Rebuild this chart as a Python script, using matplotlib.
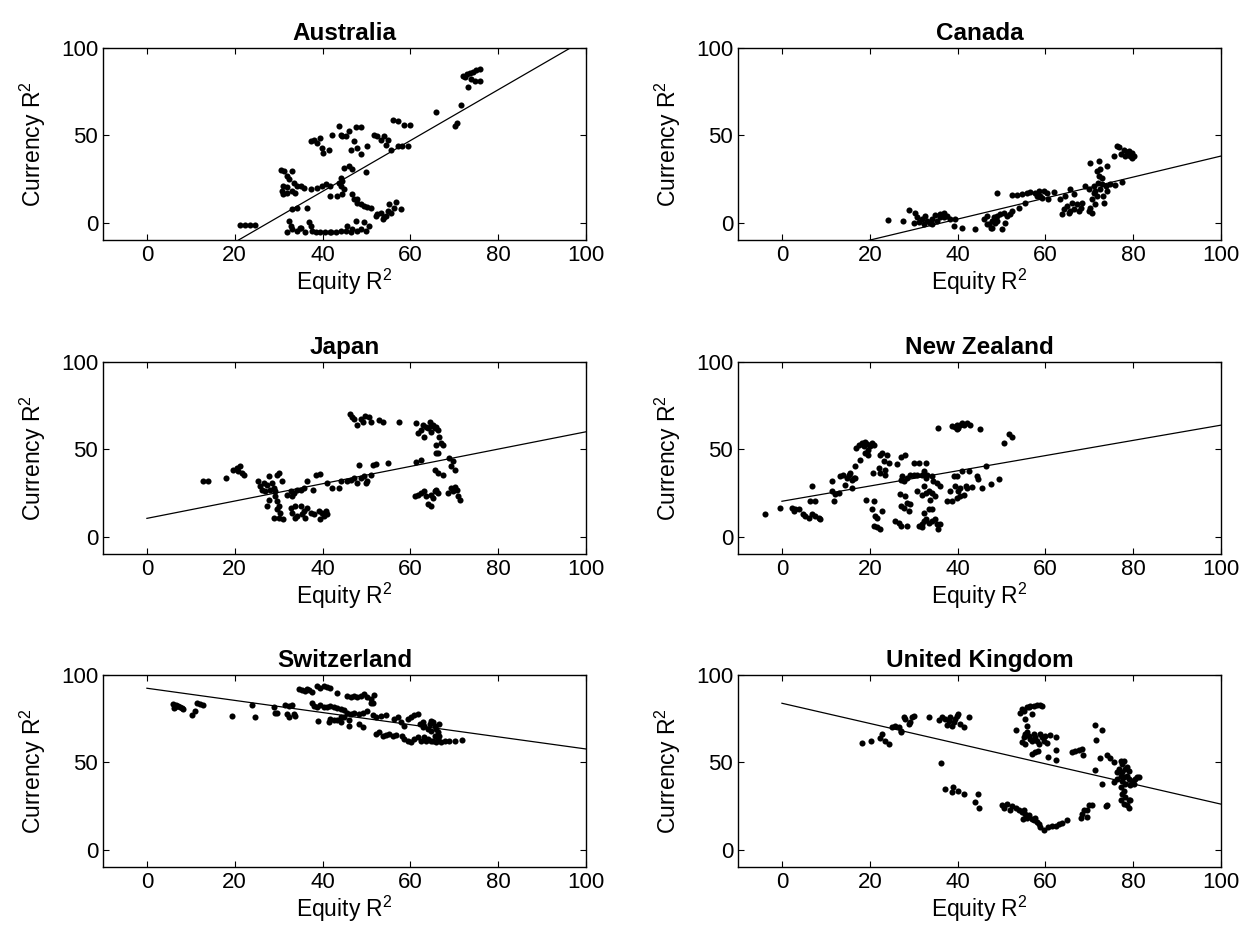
import numpy as np
import matplotlib
matplotlib.use("Agg")
import matplotlib.pyplot as plt

plt.rcParams['font.family'] = ['Liberation Sans', 'DejaVu Sans']
plt.rcParams['mathtext.fontset'] = 'custom'
plt.rcParams['mathtext.rm'] = 'Liberation Sans'
plt.rcParams['mathtext.it'] = 'Liberation Sans'

# --- data (Equity R^2, Currency R^2) ---
countries = ["Australia", "Canada", "Japan", "New Zealand", "Switzerland", "United Kingdom"]

# regression line: currency = intercept + slope * equity
fit_intercept = [-40.4, -22.1, 10.4, 20.2, 92.4, 83.8]
fit_slope = [1.456, 0.602, 0.496, 0.436, -0.348, -0.578]

aus_x = [21.2, 22.4, 23.5, 24.7, 33.1, 34.2, 36.5,
         32.3, 32.7, 31.9, 33.1, 34.2, 35.0, 36.1, 36.9, 37.3, 37.6, 38.4, 39.5, 41.8, 43.0, 44.1, 45.3,
         45.6, 46.4, 47.6, 47.9, 48.7, 49.5, 49.8, 50.6, 34.8, 40.5, 42.0, 46.8,
         52.1, 52.5, 53.3, 53.7, 54.4, 54.8, 55.2, 55.6, 56.3, 56.7, 57.9, 53.9,
         46.8, 47.2, 47.9, 48.7, 49.5, 50.2, 51.0, 47.8,
         44.9, 46.0, 46.8, 44.1, 44.5, 43.7, 44.1, 44.9, 43.4, 44.5, 49.8, 41.8,
         30.5, 31.3, 33.1, 31.9, 32.3, 31.1, 31.9, 30.8, 31.1, 31.9, 33.1, 33.4, 34.2, 35.0, 35.8, 37.3, 33.8,
         38.8, 39.9, 40.7, 41.8,
         37.3, 38.0, 38.8, 39.5, 39.9, 40.2, 41.5, 42.2, 44.1, 44.5, 45.3, 43.7, 46.0, 47.6, 48.7, 47.2, 47.9,
         46.4, 48.7, 50.2, 51.8, 52.5, 53.3, 54.0, 54.8, 54.4, 55.6, 57.1, 58.2, 59.4, 56.0, 57.1, 58.6, 59.8,
         65.9, 70.1, 70.5, 71.5,
         72.0, 72.8, 73.5, 74.3, 75.0, 75.8, 74.7, 75.8, 73.1, 73.9, 72.4]
aus_y = [-1.3, -1.3, -1.3, -1.3, 7.6, 8.2, 8.6,
         1.0, -1.9, -5.3, -3.8, -4.8, -2.9, -5.7, 0.4, -1.9, -4.8, -5.7, -5.3, -5.3, -5.3, -4.8, -4.8,
         -1.9, -5.3, 0.9, -4.8, -3.8, 0.4, -4.8, -1.9, -3.0, -5.5, -5.6, -3.5,
         3.8, 4.8, 5.7, 1.9, 3.8, 6.7, 10.5, 5.7, 8.6, 11.8, 7.6, 2.9,
         16.2, 13.7, 11.4, 10.5, 9.5, 8.9, 8.6, 13.3,
         31.4, 32.3, 30.4, 25.7, 23.8, 22.8, 20.9, 19.0, 15.2, 16.2, 28.9, 15.2,
         30.0, 29.8, 29.5, 26.8, 24.7, 20.9, 20.5, 18.1, 16.2, 17.1, 18.1, 22.8, 20.9, 20.9, 20.0, 19.0, 17.1,
         20.0, 20.9, 21.9, 20.9,
         46.6, 47.5, 45.6, 48.5, 42.8, 39.9, 41.8, 50.4, 50.4, 49.4, 49.8, 55.5, 52.3, 54.8, 54.8, 46.6, 42.8,
         41.8, 39.0, 43.7, 50.4, 49.4, 47.5, 49.4, 47.5, 44.7, 41.8, 43.7, 43.7, 44.1, 58.9, 58.0, 56.1, 56.1,
         63.1, 55.5, 57.0, 67.5,
         83.7, 85.2, 85.6, 86.5, 87.5, 87.8, 80.8, 80.8, 77.9, 82.1, 83.3]

can_x = [24.1, 27.6, 28.9, 30.4,
         30.8, 31.1, 31.9, 32.6, 33.0, 33.8, 34.2, 34.9, 35.3, 36.1, 36.8, 37.6, 38.3, 39.5, 39.1, 41.0,
         34.2, 30.0, 32.3, 35.9, 37.0,
         44.0, 45.9, 46.7, 47.1, 47.5, 47.8, 48.2, 48.6, 49.0, 49.7, 50.1, 50.5, 50.9, 51.3, 52.0, 52.4,
         46.7, 47.8, 49.0, 53.9, 55.4, 49.0,
         52.4, 53.5, 54.7, 55.8, 56.4, 57.7, 58.5, 58.8, 59.6, 60.4, 60.7, 61.9, 58.1, 59.2,
         63.8, 64.2, 64.9, 65.7, 66.1, 66.4, 67.2, 67.6, 68.0, 63.4, 64.5, 65.7, 66.4, 68.3, 65.3,
         69.1, 69.9, 70.2, 70.2, 70.6, 71.0, 71.1, 71.4, 71.8, 71.9, 72.1, 72.5, 72.5, 72.9, 73.1, 73.3,
         73.7, 74.0, 74.0, 72.1, 70.6, 71.4, 72.9, 69.9, 74.8, 75.9, 77.4, 71.8,
         75.6, 76.3, 76.7, 77.1, 77.8, 78.6, 79.0, 79.3, 79.7, 79.0, 79.7, 80.1, 78.2]
can_y = [1.3, 0.6, 7.0, 5.3,
         2.9, 0.4, 1.9, 3.8, 1.0, 0.0, 2.3, 4.2, 1.0, 4.8, 5.7, 3.8, 1.9, 1.9, -1.9, -2.9,
         -1.0, 0.0, -1.0, 2.9, 2.9,
         -3.8, 1.9, 3.8, -1.0, -2.9, 1.0, 2.9, 0.0, 3.8, 4.8, -3.8, 5.7, 0.0, 3.8, 4.8, 6.7,
         -1.0, -2.9, 1.0, 8.6, 11.4, 16.7,
         15.6, 15.8, 16.2, 16.7, 17.5, 17.1, 18.1, 15.2, 18.1, 16.7, 13.7, 17.5, 15.2, 14.3,
         4.8, 7.6, 9.5, 6.7, 11.4, 7.6, 10.5, 6.7, 8.6, 13.3, 15.2, 19.4, 16.2, 11.4, 5.7,
         20.9, 6.7, 8.6, 34.2, 13.3, 17.1, 20.9, 10.5, 15.2, 22.8, 26.6, 19.0, 30.4, 25.7, 15.2, 11.4,
         20.9, 32.3, 18.1, 35.2, 5.7, 18.1, 21.9, 19.0, 21.9, 21.3, 23.2, 29.5,
         38.0, 44.1, 43.3, 39.0, 41.8, 40.3, 39.0, 38.0, 37.1, 40.9, 39.9, 38.4, 38.0]

jap_x = [12.8, 14.0, 18.0, 19.7, 20.5, 21.2, 21.6, 22.1, 20.8,
         25.4, 25.8, 26.2, 26.6, 27.3, 27.7, 28.1, 28.5, 28.9, 29.2, 29.6, 30.0, 29.2, 29.6, 30.0, 30.8,
         27.7, 27.3, 29.6, 28.9, 30.0, 31.1, 30.4, 26.9,
         31.9, 32.7, 33.4, 34.2, 35.0, 35.7, 36.5, 37.9, 33.1,
         32.7, 33.1, 33.8, 34.2, 35.0, 35.7, 36.1, 36.5, 37.3, 38.0, 39.2, 39.9, 40.7, 39.5, 40.3, 41.1,
         33.8, 35.3,
         38.4, 39.5, 41.1, 42.2, 43.7, 44.1, 45.6, 46.4, 47.2, 47.9, 48.7, 49.5, 50.2, 51.0, 49.8, 48.3,
         51.4, 52.1, 54.8,
         46.3, 46.8, 47.8, 48.7, 49.6, 50.6, 51.0, 52.9, 53.7, 57.5, 47.2, 49.1,
         61.3, 61.7, 62.4, 62.8, 63.2, 63.6, 64.0, 64.4, 64.7, 65.1, 65.5, 65.9, 66.3, 66.6, 65.9, 67.0,
         66.3, 67.4, 64.7,
         61.3, 62.4, 65.5, 66.3, 67.4, 68.9, 69.7, 70.1, 69.3, 65.9,
         61.1, 61.7, 62.4, 63.2, 63.6, 64.0, 64.6, 65.1, 65.5, 65.9, 66.3, 64.7, 68.5, 69.3, 70.1, 70.5,
         70.8, 71.2, 69.7]
jap_y = [31.6, 31.6, 33.5, 38.3, 39.2, 40.2, 36.4, 35.4, 37.3,
         31.6, 28.8, 26.9, 30.7, 29.7, 34.5, 26.9, 30.7, 27.8, 26.0, 35.4, 36.4, 23.1, 20.3, 17.4, 31.6,
         21.2, 17.4, 15.5, 10.8, 10.8, 9.8, 13.6, 26.0,
         24.0, 25.9, 25.0, 26.9, 26.9, 27.8, 31.6, 26.9, 23.1,
         16.5, 13.6, 17.4, 11.7, 17.4, 14.6, 10.8, 16.5, 13.6, 12.7, 14.6, 13.6, 14.6, 9.8, 11.7, 13.1,
         10.8, 12.7,
         35.4, 35.8, 30.7, 27.8, 27.8, 31.6, 31.6, 32.6, 33.5, 30.7, 33.5, 34.5, 31.6, 35.4, 30.7, 41.1,
         41.1, 41.5, 42.0,
         69.9, 68.6, 63.8, 67.6, 69.1, 68.6, 65.7, 67.0, 65.7, 65.7, 67.6, 65.7,
         64.8, 59.1, 61.0, 63.8, 57.2, 62.9, 61.9, 65.7, 63.4, 63.8, 62.3, 62.9, 61.0, 57.2, 52.5, 53.4,
         47.7, 52.5, 60.0,
         42.6, 43.9, 38.3, 36.4, 35.4, 44.9, 43.0, 38.3, 40.2, 47.7,
         23.1, 24.0, 25.0, 26.0, 23.1, 18.4, 24.0, 22.2, 26.0, 26.9, 25.0, 17.4, 25.0, 27.8, 28.2, 26.9,
         23.1, 21.2, 26.0]

nz_x = [-3.9, -0.4, 2.3, 2.7, 3.0, 3.8, 4.9, 5.3, 6.1, 6.8, 7.6, 8.4, 8.7, 6.5, 6.8, 7.6,
        11.4, 11.4, 11.8, 12.1, 12.9, 13.3, 14.0, 14.4, 14.8, 15.2, 15.6, 15.9, 16.3, 16.7, 15.9, 16.7,
        16.9, 17.5, 17.8, 18.2, 18.6, 19.0, 19.4, 19.7, 20.1, 20.5, 20.9, 19.0, 19.7,
        20.7, 22.0, 22.4, 22.8, 23.2, 23.5, 23.9, 24.3, 22.4, 23.5,
        19.2, 20.9, 20.5, 21.3, 21.6, 20.9, 21.6, 22.4, 22.8,
        26.2, 27.0, 28.1, 30.0, 31.1, 32.7, 27.0, 27.7, 28.5, 29.2, 30.0, 30.8, 32.3, 32.7, 33.0, 34.5,
        35.3, 36.1, 31.9, 34.2, 27.3,
        26.8, 28.1, 27.0, 27.7, 28.5, 29.2, 28.9, 30.8, 32.3, 31.9, 32.7, 33.4, 34.2, 34.9, 33.8, 32.3,
        33.4, 34.2,
        25.8, 26.6, 27.0, 28.5, 31.1, 31.9, 32.3, 32.7, 33.4, 34.2, 34.9, 35.3, 36.1, 35.5, 31.9,
        37.6, 38.3, 38.7, 39.1, 39.5, 39.9, 40.2, 40.6, 40.6, 41.4, 41.8, 42.1, 42.5, 43.3, 41.0, 39.9,
        44.4, 44.6, 45.6, 46.5, 47.5, 49.5,
        35.5, 38.7, 39.5, 39.9, 40.2, 40.6, 41.0, 41.4, 42.1, 42.9, 45.0, 39.9,
        50.6, 51.6, 52.4]
nz_y = [12.7, 16.5, 16.5, 14.6, 15.5, 15.5, 12.7, 11.7, 10.8, 12.7, 11.7, 10.8, 9.8, 20.3, 28.8, 20.3,
        31.6, 25.9, 20.3, 24.1, 25.0, 34.5, 35.4, 29.7, 33.5, 35.4, 36.4, 32.6, 33.5, 33.5, 27.8, 40.2,
        50.9, 52.5, 43.9, 53.4, 51.7, 54.0, 52.8, 49.4, 51.7, 53.4, 52.5, 47.7, 46.8,
        36.4, 39.2, 46.8, 47.7, 43.0, 38.3, 46.8, 42.0, 36.4, 35.4,
        21.2, 20.3, 15.5, 11.7, 10.8, 6.1, 5.5, 4.2, 14.6,
        41.5, 45.8, 46.8, 42.0, 42.0, 42.0, 32.6, 31.6, 33.5, 35.4, 35.4, 35.4, 37.3, 33.5, 35.4, 31.6,
        30.7, 28.8, 35.4, 34.5, 34.5,
        24.4, 23.1, 17.4, 16.5, 19.3, 18.4, 14.6, 25.9, 28.8, 24.0, 25.0, 25.9, 25.0, 23.1, 21.2, 13.6,
        15.5, 15.5,
        8.9, 8.0, 6.1, 6.1, 6.1, 7.0, 8.9, 9.8, 8.0, 8.9, 9.8, 7.0, 7.0, 4.2, 5.7,
        20.3, 25.9, 20.3, 34.5, 28.8, 34.5, 25.9, 27.8, 23.1, 24.0, 28.8, 27.8, 37.3, 28.2, 37.3, 22.2,
        34.5, 33.1, 27.8, 40.5, 30.1, 33.1,
        62.3, 63.4, 62.9, 61.6, 62.3, 63.8, 64.8, 63.8, 64.8, 63.8, 61.4, 63.8,
        53.4, 58.5, 57.2]

swi_x = [6.0, 6.3, 6.7, 7.1, 7.5, 7.9, 8.2, 6.2, 10.2, 10.9, 11.3, 12.1, 12.8,
         19.3, 23.9, 24.7, 28.9, 29.2, 29.6, 31.5, 32.3, 33.1, 31.9, 32.3, 33.4, 33.8,
         34.6, 35.3, 36.1, 36.9, 37.6, 36.5, 38.8, 39.5, 40.3, 41.1, 41.8, 43.4,
         45.6, 46.4, 47.2, 47.9, 48.7, 49.5, 50.2, 51.0, 51.4, 51.8, 51.0,
         37.6, 38.0, 38.8, 39.5, 40.3, 41.1, 41.8, 42.6, 43.4, 44.1, 44.9, 45.6, 46.4, 47.2, 48.3, 49.1,
         50.2, 51.4, 52.1, 53.3, 54.4, 56.3, 57.1, 57.9, 58.6, 59.4, 60.2, 60.9, 61.7, 62.8,
         38.9, 41.5, 41.8, 42.6, 43.4, 44.1, 44.9, 46.0, 46.0, 48.3, 49.1, 44.1,
         52.1, 52.9, 53.7, 54.4, 55.2, 56.0, 56.7, 58.2, 58.6, 59.4, 60.2, 60.9, 61.7, 62.4, 63.2, 63.6,
         64.0, 64.7,
         62.1, 62.8, 63.2, 64.0, 64.4, 64.7, 65.1, 65.5, 65.9, 66.3, 66.6, 65.5, 66.3, 67.0, 65.9, 65.1,
         66.6, 64.7,
         67.8, 68.9, 70.1, 71.8]
swi_y = [83.3, 81.7, 82.9, 82.3, 81.4, 81.0, 80.4, 81.0, 77.0, 79.5, 83.7, 83.3, 82.7,
         76.6, 82.7, 75.7, 81.7, 78.1, 78.0, 82.9, 82.3, 82.9, 77.6, 75.7, 77.6, 76.6,
         91.8, 91.3, 90.9, 91.3, 90.5, 91.8, 93.7, 92.8, 93.7, 93.2, 92.8, 89.9,
         88.0, 87.5, 88.0, 87.1, 88.0, 89.0, 87.5, 86.1, 84.2, 88.6, 83.7,
         83.7, 82.3, 81.4, 82.9, 81.7, 81.4, 82.3, 81.4, 81.0, 80.4, 79.8, 78.5, 77.6, 78.5, 77.6, 78.5,
         79.5, 77.2, 75.7, 76.6, 77.2, 74.7, 75.7, 72.8, 70.9, 74.7, 75.7, 77.2, 77.6, 72.8,
         73.8, 72.8, 74.7, 74.1, 74.1, 75.7, 76.0, 74.1, 70.9, 71.9, 70.0, 72.8,
         66.2, 67.1, 65.2, 65.8, 66.2, 65.2, 65.8, 65.2, 63.3, 62.4, 61.4, 63.3, 64.3, 62.0, 64.3, 62.4,
         63.3, 62.0,
         71.9, 70.0, 70.9, 69.0, 71.9, 73.8, 72.8, 70.9, 69.0, 67.1, 71.9, 65.2, 63.3, 61.4, 61.4, 62.4,
         65.2, 68.1,
         62.0, 62.4, 62.4, 62.7]

uk_x = [18.2, 20.3, 22.4, 22.8, 23.5, 24.3,
        25.1, 25.8, 26.6, 27.0, 27.2, 27.7, 28.1, 28.9, 29.2, 29.6, 30.0, 33.4,
        35.7, 36.4, 37.2, 38.0, 38.3, 39.1, 39.5, 39.9, 40.2, 40.6, 41.5, 42.7, 37.6, 38.7, 36.3,
        37.2, 38.7, 38.9, 40.2, 41.4, 43.9, 44.6, 44.8,
        50.1, 50.5, 51.3, 52.0, 52.4, 53.2, 53.9, 54.7, 55.1, 55.4, 55.8, 56.2, 56.9, 57.3, 57.7, 58.1,
        58.5, 58.8, 59.6, 60.7, 61.5, 62.3, 63.0, 63.8, 64.9, 68.0, 68.3, 68.7, 69.5, 69.9, 70.6, 69.5,
        54.9, 73.7, 74.0, 72.9, 71.4,
        54.3, 54.7, 55.1, 55.4, 55.8, 56.2, 56.6, 57.3, 58.1, 58.8, 59.2, 56.9, 53.4, 55.8, 55.4, 55.1,
        54.7, 55.4, 55.8, 56.2, 56.6, 56.9, 57.3, 57.7, 58.1, 58.5, 58.8, 59.2, 59.6, 60.0, 60.4, 61.1,
        62.3, 56.9, 57.7, 58.2, 60.7, 62.3, 62.5,
        66.1, 66.8, 67.6, 68.3, 68.6, 71.2, 72.9, 71.6, 72.5, 74.0, 74.8, 75.6,
        77.1, 77.8, 77.4, 76.7, 78.2, 78.6, 76.3, 77.4, 79.0, 77.1, 77.8, 78.6, 76.3, 77.4, 79.0, 79.7,
        80.5, 80.9, 80.1, 79.3, 78.2, 77.8, 77.1, 75.6, 78.2, 79.0, 77.1, 77.8, 79.0, 78.6, 79.3, 77.4,
        81.2]
uk_y = [60.8, 62.4, 63.9, 66.2, 62.0, 60.5,
        70.3, 70.9, 70.3, 68.1, 67.1, 76.0, 74.7, 71.9, 72.8, 76.0, 76.6, 75.7,
        74.1, 75.7, 74.7, 73.8, 75.7, 72.8, 74.7, 76.6, 77.6, 71.9, 70.3, 76.2, 71.5, 70.9, 49.8,
        34.4, 32.9, 35.7, 33.3, 31.9, 27.2, 31.6, 23.8,
        25.3, 24.0, 26.2, 22.4, 24.7, 24.0, 22.4, 21.5, 22.4, 20.5, 18.3, 19.6, 17.7, 16.7, 18.3, 15.8,
        14.8, 12.9, 11.0, 12.9, 13.3, 13.3, 14.8, 15.2, 17.1, 18.3, 20.5, 22.4, 22.4, 25.3, 25.3, 18.6,
        17.7, 24.7, 25.7, 37.6, 45.6,
        78.5, 80.4, 79.5, 74.7, 81.4, 81.7, 82.3, 82.3, 82.9, 82.9, 82.3, 77.9, 68.4, 70.9, 66.2, 64.3,
        61.4, 60.5, 67.1, 65.2, 63.3, 62.0, 66.2, 64.6, 62.4, 60.5, 66.2, 64.3, 62.0, 65.2, 60.8, 65.8,
        64.3, 54.8, 55.7, 56.3, 52.9, 51.3, 57.2,
        55.7, 56.3, 57.0, 57.6, 54.4, 71.3, 68.6, 62.7, 52.5, 54.4, 52.5, 50.0,
        51.0, 50.6, 49.0, 46.2, 46.2, 47.1, 44.3, 44.3, 45.2, 42.4, 41.8, 42.4, 40.5, 39.5, 40.5, 39.5,
        40.5, 41.4, 37.6, 36.7, 37.6, 33.8, 35.7, 38.6, 30.0, 28.1, 28.1, 26.2, 24.0, 25.3, 28.5, 31.9,
        41.4]

xs = [aus_x, can_x, jap_x, nz_x, swi_x, uk_x]
ys = [aus_y, can_y, jap_y, nz_y, swi_y, uk_y]

fig = plt.figure(figsize=(12.56, 9.46), dpi=100)

lefts = [0.082, 0.5876]
bottoms = [0.7463, 0.4144, 0.0835]
w, h = 0.3846, 0.203

for i, name in enumerate(countries):
    ax = fig.add_axes([lefts[i % 2], bottoms[i // 2], w, h])
    ax.plot(xs[i], ys[i], 'o', color='k', ms=4.4, mec='none')
    xl = np.array([0, 100])
    ax.plot(xl, fit_intercept[i] + fit_slope[i] * xl, color='k', lw=0.9)
    ax.set_xlim(-10, 100)
    ax.set_ylim(-10, 100)
    ax.set_xticks([0, 20, 40, 60, 80, 100])
    ax.set_yticks([0, 50, 100])
    ax.tick_params(direction='in', top=True, right=True, labelsize=16, length=4, width=0.8)
    for s in ax.spines.values():
        s.set_linewidth(1.0)
    ax.set_title(name, fontsize=17.5, fontweight='bold', pad=6)
    ax.set_xlabel('Equity R$^2$', fontsize=16.5, labelpad=1)
    ax.set_ylabel('Currency R$^2$', fontsize=16.5, labelpad=9)

fig.savefig("out.png", dpi=100)
